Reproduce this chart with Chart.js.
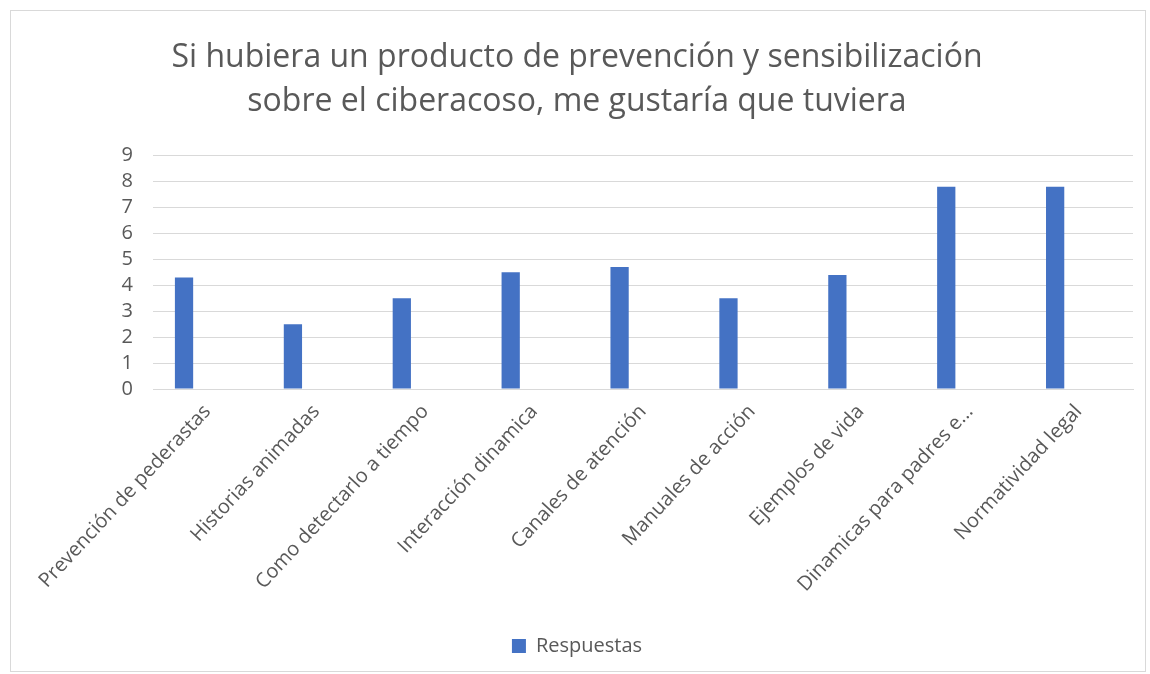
<!DOCTYPE html>
<html>
<head>
<meta charset="utf-8">
<script src="https://cdn.jsdelivr.net/npm/chart.js@4/dist/chart.umd.min.js"></script>
<style>
  body { margin: 0; background: #fff; }
  #wrap { position: absolute; left: 10px; top: 10px; width: 1134px; height: 660px; border: 1px solid #d9d9d9; }
</style>
</head>
<body>
<div id="wrap"><canvas id="chart"></canvas></div>
<script>
// Data
const categories = [
  'Prevención de pederastas',
  'Historias animadas',
  'Como detectarlo a tiempo',
  'Interacción dinamica',
  'Canales de atención',
  'Manuales de acción',
  'Ejemplos de vida',
  'Dinamicas para padres e...',
  'Normatividad legal'
];
const respuestas = [4.3, 2.5, 3.5, 4.5, 4.7, 3.5, 4.4, 7.8, 7.8];
// the original sheet has a second, empty series, which pushes the bars left of each label
const serieVacia = [];
const titleLines = ['Si hubiera un producto de prevención y sensibilización', 'sobre el ciberacoso, me gustaría que tuviera'];

const textColor = '#595959';
const fontFam = '"Open Sans", "Liberation Sans", sans-serif';

const ctx = document.getElementById('chart').getContext('2d');
new Chart(ctx, {
  type: 'bar',
  data: {
    labels: categories,
    datasets: [{
      label: 'Respuestas',
      data: respuestas,
      backgroundColor: '#4472C4',
      barPercentage: 0.39,
      categoryPercentage: 0.86
    }, {
      label: '',
      data: serieVacia,
      backgroundColor: '#ED7D31',
      barPercentage: 0.39,
      categoryPercentage: 0.86
    }]
  },
  options: {
    responsive: true,
    maintainAspectRatio: false,
    animation: false,
    layout: { padding: { left: 10, right: 12, top: 10, bottom: 5 } },
    plugins: {
      title: {
        display: true,
        text: titleLines,
        color: textColor,
        font: { family: fontFam, size: 32, weight: 'normal', lineHeight: 1.4 },
        padding: { top: 14, bottom: 31 }
      },
      legend: {
        position: 'bottom',
        labels: {
          color: textColor,
          font: { family: fontFam, size: 20 },
          boxWidth: 14,
          boxHeight: 14,
          padding: 10,
          filter: (item) => item.text !== ''
        }
      },
      tooltip: { enabled: false }
    },
    scales: {
      x: {
        grid: { display: false },
        border: { color: '#d9d9d9' },
        afterFit: (s) => { s.height = 237; },
        ticks: {
          color: textColor,
          font: { family: fontFam, size: 20 },
          minRotation: 47,
          maxRotation: 47,
          autoSkip: false
        }
      },
      y: {
        min: 0,
        max: 9,
        grid: { color: '#d9d9d9', drawTicks: false },
        border: { display: false },
        afterFit: (s) => { s.width = 132; },
        ticks: {
          stepSize: 1,
          autoSkip: false,
          color: textColor,
          font: { family: fontFam, size: 20 },
          padding: 20
        }
      }
    }
  }
});
</script>
</body>
</html>
